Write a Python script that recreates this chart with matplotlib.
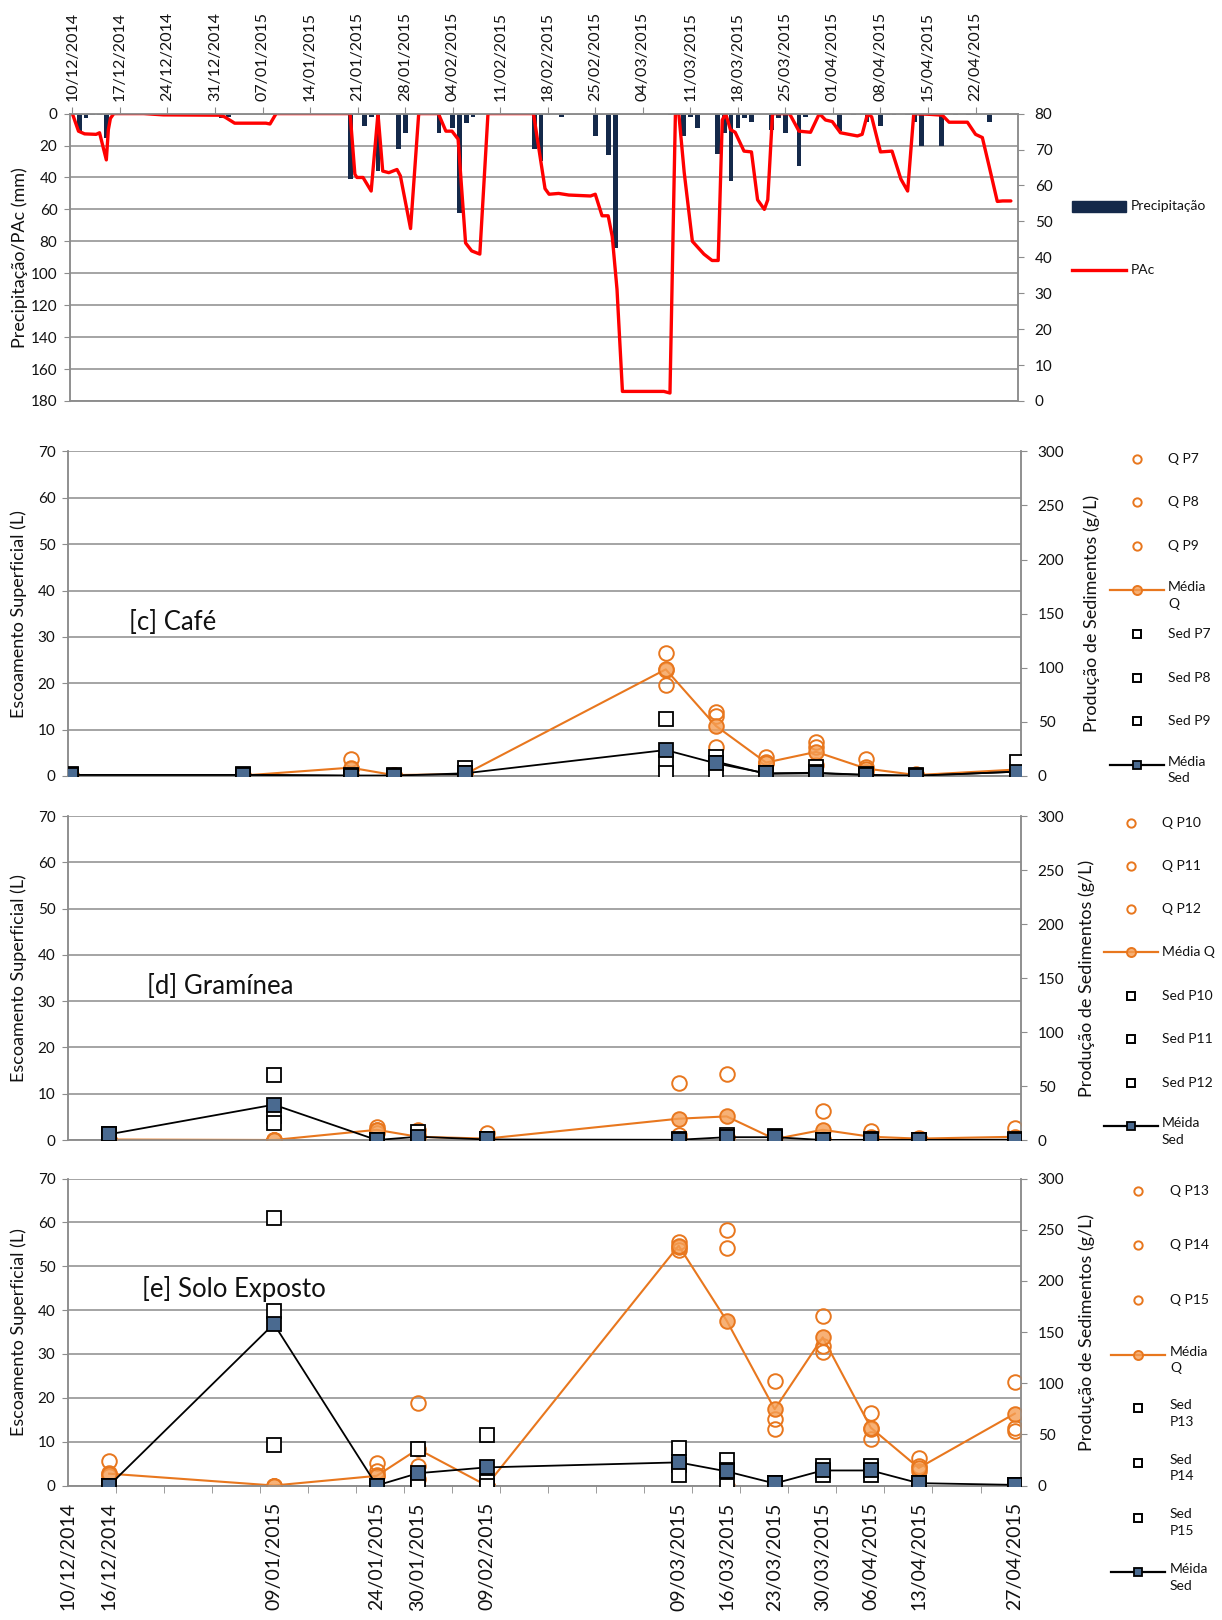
import matplotlib
matplotlib.use("Agg")
import matplotlib.dates as mdates
import matplotlib.pyplot as plt
import numpy as np
import pandas as pd
from matplotlib.lines import Line2D
from matplotlib.patches import Rectangle

plt.rcParams["font.family"] = ["Lato", "DejaVu Sans"]

W, H = 1222, 1620
GRAY = "#8c8c8c"
TXT = "#111111"
NAVY = "#14294a"
ORANGE = "#e8771e"
ORANGE_FILL = (0.96, 0.62, 0.33, 0.8)
SLATE = "#4a6a90"

START = "10/12/2014"

# daily rain (days after 10/12/2014, mm)
precip_day = [1, 2, 3, 4, 5, 19, 22, 23, 41, 42, 43, 44, 45, 47, 48, 49,
              54, 55, 56, 57, 58, 59, 68, 69, 70, 72, 73, 77, 78, 79, 80,
              88, 90, 91, 92, 95, 96, 97, 98, 99, 100, 103, 104, 105, 107, 108,
              113, 115, 117, 119, 120, 121, 123, 124, 125, 128, 130, 132, 135]
precip_mm = [11, 3, 1, 1, 15, 1, 3, 2, 41, 1, 8, 2, 36, 1, 22, 12,
             12, 1, 9, 62, 6, 2, 22, 30, 1, 2, 1, 14, 1, 26, 84,
             1, 14, 2, 9, 25, 12, 42, 9, 3, 5, 10, 3, 12, 33, 2,
             11, 1, 5, 8, 1, 1, 1, 5, 20, 20, 1, 1, 5]

# PAc curve (days after 10/12/2014, mm)
pac_day = [0, 0.9, 1.8, 3.5, 4.0, 5.0, 5.3, 5.6, 6.1, 10.5,
           13.4, 21.6, 22.4, 23.9, 28.5, 29.1, 30.0, 40.9, 41.6, 41.9,
           42.8, 44.0, 45.0, 45.7, 46.6, 47.8, 48.3, 49.8, 51.0, 53.9,
           55.0, 55.9, 56.8, 57.9, 58.8, 60.0, 61.2, 67.9, 69.6, 70.2,
           71.6, 73.1, 76.3, 77.0, 78.0, 78.9, 79.5, 80.2, 81.0, 81.7,
           87.1, 88.0, 88.8, 89.3, 90.1, 91.3, 93.0, 94.2, 95.1, 95.7,
           96.2, 96.9, 97.6, 98.9, 100.0, 100.9, 101.9, 102.4, 103.1, 105.6,
           107.0, 108.7, 110.0, 110.9, 111.9, 113.1, 115.6, 116.3, 117.1, 117.7,
           119.0, 120.7, 122.0, 123.0, 123.9, 126.4, 128.1, 129.1, 131.8, 133.0,
           134.0, 135.0, 136.2, 137.0, 138.2]
pac_mm = [0, 11, 12.7, 13, 12, 29, 10, 3, 0, 0,
          0.8, 1, 2, 6, 6, 6.5, 0, 0, 38, 40,
          40, 48.5, 0, 36, 37, 35, 39, 72, 0, 0,
          11, 11, 16, 81, 86, 88, 0, 0, 47, 50.5,
          50, 51, 51.6, 50.5, 64, 64, 77, 110, 174, 174,
          174, 175, 0, 0, 37, 80, 88, 92, 92, 4,
          0, 10, 11.7, 23.5, 24, 54, 60, 54, 0, 0,
          11, 11.7, 0, 4, 5, 12, 14, 13, 0, 2,
          24, 23.5, 41, 48.5, 0, 0.5, 1, 5.4, 5.4, 13,
          15, 33, 55, 54.7, 54.7]

top_tick_labels = ["10/12/2014", "17/12/2014", "24/12/2014", "31/12/2014",
                   "07/01/2015", "14/01/2015", "21/01/2015", "28/01/2015",
                   "04/02/2015", "11/02/2015", "18/02/2015", "25/02/2015",
                   "04/03/2015", "11/03/2015", "18/03/2015", "25/03/2015",
                   "01/04/2015", "08/04/2015", "15/04/2015", "22/04/2015"]

sample_dates = ["16/12/2014", "09/01/2015", "24/01/2015", "30/01/2015",
                "09/02/2015", "09/03/2015", "16/03/2015", "23/03/2015",
                "30/03/2015", "06/04/2015", "13/04/2015", "27/04/2015"]
bottom_tick_labels = ["10/12/2014"] + sample_dates

# [c] Cafe : runoff (L) and sediment (g/L)
q_p7 = [0.2, 0.2, 3.7, 0.3, 0.6, 26.5, 13.8, 4.2, 7.4, 3.6, 0.4, 2.2]
q_p8 = [0.1, 0.1, 1.5, 0.2, 0.4, 22.9, 12.9, 3.1, 6.3, 2.0, 0.2, 1.5]
q_p9 = [0.0, 0.0, 0.2, 0.1, 0.3, 19.6, 6.3, 2.7, 2.4, 0.9, 0.1, 0.5]
q_mean_c = [0.1, 0.1, 1.8, 0.2, 0.4, 23.0, 10.8, 2.9, 5.2, 1.6, 0.2, 1.4]
sed_p7 = [1.5, 1.5, 0.5, 0.5, 7.0, 52.6, 17.8, 2.5, 8.6, 1.5, 0.5, 13.0]
sed_p8 = [1.0, 1.0, 0.3, 0.3, 2.5, 13.0, 11.7, 1.5, 4.0, 1.0, 0.3, 0.0]
sed_p9 = [0.5, 0.5, 0.0, 0.0, 0.0, 2.5, 5.0, 1.0, 1.0, 0.5, 0.0, 0.0]
sed_mean_c = [1.0, 1.0, 0.3, 0.3, 2.5, 24.0, 11.7, 2.5, 3.0, 1.0, 0.2, 4.0]
sed_line2_c = [1.0, 1.0, 0.3, 0.3, 1.3, np.nan, 13.3, 2.0, 2.5, 1.0, 0.2, 4.0]

# [d] Graminea
q_p10 = [0.1, 0.0, 2.8, 2.2, 1.6, 12.4, 14.2, 0.5, 6.2, 2.0, 0.5, 2.5]
q_p11 = [0.0, 0.0, 2.2, 1.1, 0.0, 1.1, 0.6, 0.3, 0.3, 0.2, 0.3, 0.3]
q_p12 = [0.0, 0.0, 1.6, 0.0, 0.0, 0.3, 0.5, 0.0, 0.1, 0.0, 0.2, 0.0]
q_mean_d = [0.1, 0.0, 2.2, 0.7, 0.3, 4.6, 5.1, 0.2, 2.2, 0.7, 0.3, 0.7]
sed_p10 = [5.3, 60.0, 0.0, 7.0, 1.0, 0.5, 5.0, 4.0, 0.0, 0.5, 0.3, 0.5]
sed_p11 = [5.0, 22.0, 0.0, 2.0, 0.5, 0.0, 2.5, 3.0, 0.0, 0.0, 0.0, 0.3]
sed_p12 = [4.5, 16.0, 0.0, 0.0, 0.0, 0.0, 0.0, 2.0, 0.0, 0.0, 0.0, 0.0]
sed_mean_d = [5.3, 32.7, 0.0, 3.0, 0.5, 0.2, 2.6, 2.6, 0.0, 0.2, 0.1, 0.3]

# [e] Solo Exposto
q_p13 = [5.5, 0.0, 5.1, 18.9, 0.0, 55.6, 58.3, 23.9, 38.6, 16.6, 6.3, 23.7]
q_p14 = [2.8, 0.0, 3.2, 4.5, 0.0, 54.5, 54.2, 15.1, 31.9, 12.8, 4.4, 13.2]
q_p15 = [2.2, 0.0, 2.4, 1.5, 0.0, 53.8, 0.0, 12.8, 30.4, 10.5, 3.2, 12.4]
q_mean_e = [2.7, 0.0, 2.2, 8.3, 0.0, 54.7, 37.6, 17.4, 33.8, 13.2, 4.0, 16.4]
sed_p13 = [0.0, 261.0, 0.0, 35.6, 49.0, 37.0, 25.0, 2.0, 18.7, 18.7, 2.3, 0.6]
sed_p14 = [0.0, 171.0, 0.0, 7.0, 3.0, 20.0, 15.4, 2.0, 13.8, 13.8, 2.3, 0.6]
sed_p15 = [0.0, 40.0, 0.0, 0.0, 0.0, 10.0, 0.0, 2.0, 10.5, 10.5, 2.3, 0.6]
sed_mean_e = [0.0, 158.0, 0.0, 12.0, 17.7, 22.6, 13.8, 2.0, 14.7, 14.7, 2.3, 0.6]


def to_num(dates):
    return mdates.date2num(pd.to_datetime(dates, format="%d/%m/%Y"))


t0 = to_num([START])[0]
sample_x = to_num(sample_dates)
bottom_ticks = to_num(bottom_tick_labels)
top_ticks = to_num(top_tick_labels)

fig = plt.figure(figsize=(W / 100, H / 100), dpi=100)


def add_axes_px(left, top, right, bottom):
    return fig.add_axes([left / W, 1 - bottom / H, (right - left) / W, (bottom - top) / H])


def fxy(x, y):
    return x / W, 1 - y / H


def style_axes(ax, ax_r):
    for a in (ax, ax_r):
        for s in a.spines.values():
            s.set_color(GRAY)
            s.set_linewidth(1.1)
    ax.grid(True, axis="y", color=GRAY, lw=1.1)
    ax.set_axisbelow(True)
    ax.tick_params(axis="y", length=4, color=GRAY, labelsize=11, labelcolor=TXT, pad=5)
    ax_r.tick_params(axis="y", length=4, color=GRAY, labelsize=11, labelcolor=TXT, pad=8)


# ---------------- top panel: rain + PAc ----------------
ax0 = add_axes_px(70, 113.6, 1018, 401)
ax0r = ax0.twinx()
ax0.bar(t0 + np.array(precip_day), precip_mm, width=0.7, color=NAVY, zorder=2)
ax0.plot(t0 + np.array(pac_day), pac_mm, color="red", lw=2.4, zorder=3,
         solid_joinstyle="round", solid_capstyle="round")
ax0.set_ylim(180, 0)
ax0.set_yticks(range(0, 181, 20))
ax0r.set_ylim(0, 80)
ax0r.set_yticks(range(0, 81, 10))
ax0.set_xlim(t0 - 0.35, t0 + 139.25)
style_axes(ax0, ax0r)
ax0.xaxis.tick_top()
ax0.set_xticks(top_ticks)
ax0.set_xticklabels(top_tick_labels, rotation=90, fontsize=11.5, color=TXT)
ax0.tick_params(axis="x", length=5, color=GRAY, pad=4)
ax0.set_ylabel("Precipitação/PAc (mm)", fontsize=13, color=TXT)
ax0.yaxis.set_label_coords(-0.044, 0.5)

x0, y0 = fxy(1072, 211.5)
fig.add_artist(Rectangle((x0, y0), 54 / W, 11 / H, transform=fig.transFigure,
                         color=NAVY))
fig.text(*fxy(1131, 206), "Precipitação", fontsize=10, va="center", color=TXT)
fig.add_artist(Line2D([1072 / W, 1126 / W], [fxy(0, 269.5)[1]] * 2,
                      transform=fig.transFigure, color="red", lw=2.4))
fig.text(*fxy(1131, 269.5), "PAc", fontsize=10, va="center", color=TXT)


# ---------------- runoff / sediment panels ----------------
def runoff_panel(top, bottom, xlim, q_reps, q_mean, sed_reps, sed_mean, title, title_xy,
                 right_label_x):
    ax = add_axes_px(68, top, 1021, bottom)
    ax_r = ax.twinx()
    for q in q_reps:
        ax.plot(sample_x, q, ls="none", marker="o", ms=10.5, mfc="none",
                mec=ORANGE, mew=1.4, zorder=3)
    ax.plot(sample_x, q_mean, color=ORANGE, lw=1.5, marker="o", ms=10.5,
            mfc=ORANGE_FILL, mec=ORANGE, mew=1.4, zorder=4)
    for s in sed_reps:
        ax_r.plot(sample_x, s, ls="none", marker="s", ms=9.5, mfc="white",
                  mec="black", mew=1.3, zorder=3)
    ax_r.plot(sample_x, sed_mean, color="black", lw=1.3, marker="s", ms=9.5,
              mfc=SLATE, mec="black", mew=1.3, zorder=4)
    ax.set_ylim(0, 70)
    ax.set_yticks(range(0, 71, 10))
    ax_r.set_ylim(0, 300)
    ax_r.set_yticks(range(0, 301, 50))
    ax.set_xlim(t0 + xlim[0], t0 + xlim[1])
    style_axes(ax, ax_r)
    ax.spines["top"].set_visible(False)
    ax_r.spines["top"].set_visible(False)
    ax.set_ylabel("Escoamento Superficial (L)", fontsize=13, color=TXT)
    ax.yaxis.set_label_coords(-0.043, 0.5)
    ax_r.set_ylabel("Produção de Sedimentos (g/L)", fontsize=13, color=TXT, rotation=90)
    ax_r.yaxis.set_label_coords(right_label_x, 0.5)
    ax.text(title_xy[0], title_xy[1], title, transform=ax.transAxes,
            fontsize=18.5, color=TXT, va="center", ha="left")
    ax.set_xticks([])
    return ax, ax_r


def legend_block(entries, ys, x_mark, x_text, half=27, fs=10):
    for (kind, label), y in zip(entries, ys):
        fx, fy = fxy(x_mark, y)
        xa, xb = (x_mark - half) / W, (x_mark + half) / W
        if kind == "q":
            fig.add_artist(Line2D([fx], [fy], transform=fig.transFigure, ls="none",
                                  marker="o", ms=6, mfc="none", mec=ORANGE, mew=1.4))
        elif kind == "qm":
            fig.add_artist(Line2D([xa, xb], [fy, fy], transform=fig.transFigure,
                                  color=ORANGE, lw=1.6))
            fig.add_artist(Line2D([fx], [fy], transform=fig.transFigure, ls="none",
                                  marker="o", ms=6.5, mfc=ORANGE_FILL, mec=ORANGE, mew=1.4))
        elif kind == "s":
            fig.add_artist(Line2D([fx], [fy], transform=fig.transFigure, ls="none",
                                  marker="s", ms=5.5, mfc="white", mec="black", mew=1.4))
        else:
            fig.add_artist(Line2D([xa, xb], [fy, fy], transform=fig.transFigure,
                                  color="black", lw=1.6))
            fig.add_artist(Line2D([fx], [fy], transform=fig.transFigure, ls="none",
                                  marker="s", ms=6, mfc=SLATE, mec="black", mew=1.3))
        tx = x_text / W
        if "\n" in label:
            fig.text(tx, fxy(0, y - 9)[1], label, fontsize=fs, va="top",
                     linespacing=1.45, color=TXT)
        else:
            fig.text(tx, fy, label, fontsize=fs, va="center", color=TXT)


# [c]
axc, axcr = runoff_panel(451.4, 776, (5.54, 138.6), [q_p7, q_p8, q_p9], q_mean_c,
                         [sed_p7, sed_p8, sed_p9], sed_mean_c, "[c] Café", (0.064, 0.474),
                         1.066)
axcr.plot(sample_x, sed_line2_c, color="black", lw=1.3, zorder=2)
legend_block([("q", "Q P7"), ("q", "Q P8"), ("q", "Q P9"), ("qm", "Média\nQ"),
              ("s", "Sed P7"), ("s", "Sed P8"), ("s", "Sed P9"), ("sm", "Média\nSed")],
             [458.6, 502.4, 545.5, 590, 633.7, 677.5, 721, 765], 1137, 1168)

# [d]
axd, axdr = runoff_panel(816, 1140, (0, 138.9), [q_p10, q_p11, q_p12], q_mean_d,
                         [sed_p10, sed_p11, sed_p12], sed_mean_d, "[d] Gramínea", (0.0825, 0.474),
                         1.060)
legend_block([("q", "Q P10"), ("q", "Q P11"), ("q", "Q P12"), ("qm", "Média Q"),
              ("s", "Sed P10"), ("s", "Sed P11"), ("s", "Sed P12"), ("sm", "Méida\nSed")],
             [823.3, 865.7, 909, 952.4, 995.8, 1039.2, 1082.6, 1126], 1131, 1162)

# [e]
axe, axer = runoff_panel(1178.6, 1485.5, (0, 138.9), [q_p13, q_p14, q_p15], q_mean_e,
                         [sed_p13, sed_p14, sed_p15], sed_mean_e, "[e] Solo Exposto", (0.078, 0.64),
                         1.060)
axe.set_xticks(bottom_ticks)
axe.set_xticklabels(bottom_tick_labels, rotation=90, fontsize=14, color=TXT)
axe.set_xticks(t0 + np.arange(0, 139, 7), minor=True)
axe.tick_params(axis="x", which="major", length=0, pad=12)
axe.tick_params(axis="x", which="minor", length=5, color=GRAY)
legend_block([("q", "Q P13"), ("q", "Q P14"), ("q", "Q P15"), ("qm", "Média\nQ"),
              ("s", "Sed\nP13"), ("s", "Sed\nP14"), ("s", "Sed\nP15"), ("sm", "Méida\nSed")],
             [1190.9, 1245, 1299.6, 1354.5, 1408.4, 1463, 1517.5, 1572.4], 1138, 1170)

fig.savefig("out.png", dpi=100)
